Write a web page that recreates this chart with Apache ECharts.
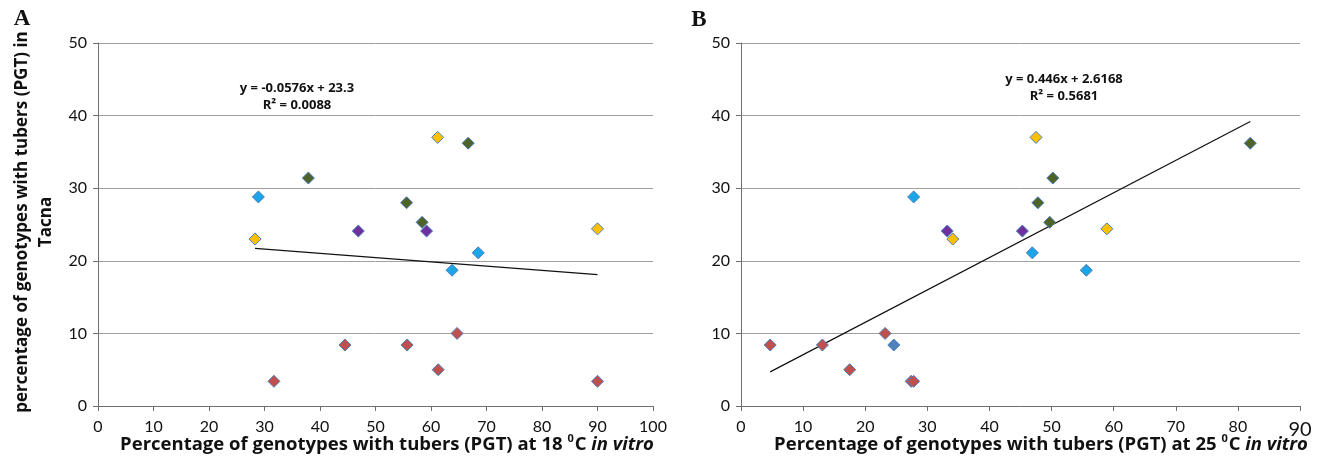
<!DOCTYPE html>
<html>
<head>
<meta charset="utf-8">
<script src="https://cdn.jsdelivr.net/npm/echarts@6/dist/echarts.min.js"></script>
<style>
html,body{margin:0;padding:0;background:#fff;}
#chart{width:1322px;height:475px;}
</style>
</head>
<body>
<div id="chart"></div>
<script>
// ---------- DATA ----------
const groupNames = ['lightblue', 'yellow', 'green', 'purple', 'red', 'steelblue'];
const groupColors = ['#1CA6E8', '#FFC000', '#4F6228', '#7030A0', '#C0504D', '#4F81BD'];

// Panel A: PGT at 18 °C in vitro (x) vs PGT in Tacna (y)
const A_lightblue = [[28.9, 28.8], [68.5, 21.1], [63.8, 18.7]];
const A_yellow    = [[28.3, 23.0], [61.2, 37.0], [90.0, 24.4]];
const A_green     = [[37.9, 31.4], [55.6, 28.0], [58.4, 25.3], [66.7, 36.2]];
const A_purple    = [[46.9, 24.1], [59.2, 24.1]];
const A_red       = [[31.7, 3.4], [44.5, 8.4], [55.7, 8.4], [61.3, 5.0], [64.7, 10.0], [90.0, 3.4]];
const A_steelblue = [];
const A_trend     = [[28.3, 21.7], [90.0, 18.1]];
const A_equation  = ['y = -0.0576x + 23.3', 'R² = 0.0088'];

// Panel B: PGT at 25 °C in vitro (x) vs PGT in Tacna (y)
const B_lightblue = [[27.8, 28.8], [46.9, 21.1], [55.6, 18.7]];
const B_yellow    = [[34.1, 23.0], [47.5, 37.0], [58.9, 24.4]];
const B_green     = [[47.8, 28.0], [49.7, 25.3], [50.2, 31.4], [82.0, 36.2]];
const B_purple    = [[33.2, 24.1], [45.3, 24.1]];
const B_red       = [[4.7, 8.4], [13.1, 8.4], [17.5, 5.0], [23.2, 10.0], [27.4, 3.4], [27.8, 3.4]];
const B_steelblue = [[24.6, 8.4]];
const B_trend     = [[4.7, 4.7], [82.0, 39.2]];
const B_equation  = ['y = 0.446x + 2.6168', 'R² = 0.5681'];

const yTicks = [0, 10, 20, 30, 40, 50];
const A_xTicks = [0, 10, 20, 30, 40, 50, 60, 70, 80, 90, 100];
const B_xTicks = [0, 10, 20, 30, 40, 50, 60, 70, 80, 90];

const yTitle = ['percentage of genotypes with tubers (PGT) in', 'Tacna'];
const A_xTitle = ['Percentage of genotypes with tubers (PGT) at 18 ', '0', 'C ', 'in vitro'];
const B_xTitle = ['Percentage of genotypes with tubers (PGT) at 25 ', '0', 'C ', 'in vitro'];

// ---------- CHART ----------
const TICKFONT = 'Lato, "Open Sans", sans-serif';
const BOLDFONT = '"Open Sans", sans-serif';
const chart = echarts.init(document.getElementById('chart'), null, {renderer: 'canvas'});

const A_groups = [A_lightblue, A_yellow, A_green, A_purple, A_red, A_steelblue];
const B_groups = [B_lightblue, B_yellow, B_green, B_purple, B_red, B_steelblue];

function xAxisDef(gridIndex, ticks, bigLast) {
  return {
    type: 'value', gridIndex: gridIndex,
    min: ticks[0], max: ticks[ticks.length - 1], interval: 10,
    axisLine: {show: true, lineStyle: {color: '#6f6f6f', width: 1}},
    axisTick: {show: true, inside: false, length: 5, lineStyle: {color: '#6f6f6f'}},
    splitLine: {show: false},
    axisLabel: {
      margin: 10, color: '#111', fontFamily: TICKFONT, fontSize: 16,
      formatter: function (v) { return (bigLast && v === ticks[ticks.length - 1]) ? '{big|' + v + '}' : '{n|' + v + '}'; },
      rich: {
        n: {fontSize: 16, fontFamily: TICKFONT, color: '#111', lineHeight: 22, verticalAlign: 'middle'},
        big: {fontSize: 20, fontFamily: TICKFONT, color: '#111', lineHeight: 22, verticalAlign: 'middle', padding: [5, 0, 0, 0]}
      }
    }
  };
}
function yAxisDef(gridIndex) {
  return {
    type: 'value', gridIndex: gridIndex,
    min: yTicks[0], max: yTicks[yTicks.length - 1], interval: 10,
    axisLine: {show: true, lineStyle: {color: '#6f6f6f', width: 1}},
    axisTick: {show: true, inside: false, length: 5, lineStyle: {color: '#6f6f6f'}},
    splitLine: {show: true, lineStyle: {color: '#a0a0a0', width: 1}},
    axisLabel: {margin: 11, color: '#111', fontFamily: TICKFONT, fontSize: 16}
  };
}

const series = [];
[A_groups, B_groups].forEach(function (groups, gi) {
  groups.forEach(function (pts, k) {
    if (!pts.length) return;
    series.push({
      type: 'scatter', name: (gi ? 'B ' : 'A ') + groupNames[k],
      xAxisIndex: gi, yAxisIndex: gi,
      symbol: 'diamond', symbolSize: [12, 12],
      itemStyle: {color: groupColors[k], borderColor: '#4a7ebb', borderWidth: 1, opacity: 1},
      data: pts, z: 3
    });
  });
});
[A_trend, B_trend].forEach(function (t, gi) {
  series.push({
    type: 'line', xAxisIndex: gi, yAxisIndex: gi, data: t,
    symbol: 'none', lineStyle: {color: '#111', width: 1.2}, z: 2, silent: true
  });
});

function eqText(lines, cx, y) {
  return lines.map(function (s, i) {
    return {type: 'text', x: cx, y: y + i * 17,
      style: {text: s, fill: '#111', font: 'bold 13px ' + BOLDFONT, textAlign: 'center', textVerticalAlign: 'middle'}};
  });
}
function xTitle(parts, cx, y) {
  return {type: 'text', x: cx, y: y,
    style: {
      text: '{b|' + parts[0] + '}{s|' + parts[1] + '}{b|' + parts[2] + '}{i|' + parts[3] + '}',
      textAlign: 'center', textVerticalAlign: 'middle',
      rich: {
        b: {fontFamily: BOLDFONT, fontWeight: 'bold', fontSize: 18.5, fill: '#111', lineHeight: 24, verticalAlign: 'bottom'},
        s: {fontFamily: BOLDFONT, fontWeight: 'bold', fontSize: 11, fill: '#111', lineHeight: 24, verticalAlign: 'top', padding: [3, 1, 0, 0]},
        i: {fontFamily: BOLDFONT, fontWeight: 'bold', fontStyle: 'italic', fontSize: 18.5, fill: '#111', lineHeight: 24, verticalAlign: 'bottom'}
      }
    }};
}

const graphics = [].concat(
  eqText(A_equation, 297, 88),
  eqText(B_equation, 1064, 79),
  [
    {type: 'text', x: 22, y: 19, style: {text: 'A', font: 'bold 23px "Liberation Serif", serif', fill: '#111', textAlign: 'center', textVerticalAlign: 'middle'}},
    {type: 'text', x: 699, y: 20, style: {text: 'B', font: 'bold 23px "Liberation Serif", serif', fill: '#111', textAlign: 'center', textVerticalAlign: 'middle'}},
    {type: 'text', x: 22, y: 222, rotation: Math.PI / 2,
      style: {text: yTitle[0], font: 'bold 17px ' + BOLDFONT, fill: '#111', textAlign: 'center', textVerticalAlign: 'middle'}},
    {type: 'text', x: 46, y: 222, rotation: Math.PI / 2,
      style: {text: yTitle[1], font: 'bold 17px ' + BOLDFONT, fill: '#111', textAlign: 'center', textVerticalAlign: 'middle'}},
    xTitle(A_xTitle, 387, 442),
    xTitle(B_xTitle, 1041, 442)
  ]
);

chart.setOption({
  backgroundColor: '#ffffff',
  animation: false,
  grid: [
    {left: 98, right: 669, top: 43, bottom: 69, containLabel: false},
    {left: 741, right: 22, top: 43, bottom: 69, containLabel: false}
  ],
  xAxis: [xAxisDef(0, A_xTicks, false), xAxisDef(1, B_xTicks, true)],
  yAxis: [yAxisDef(0), yAxisDef(1)],
  series: series,
  graphic: graphics
});
</script>
</body>
</html>
